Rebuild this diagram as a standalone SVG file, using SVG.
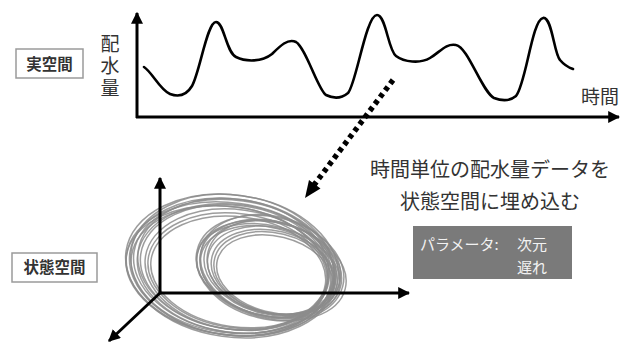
<svg xmlns="http://www.w3.org/2000/svg" width="631" height="345" viewBox="0 0 631 345">
<style>
.axis{stroke:#000;stroke-width:3;fill:none}
.curve{stroke:#000;stroke-width:2.6;fill:none;stroke-linecap:round}
.loop{fill:none;stroke:#8c8c8c;stroke-width:1.5;stroke-opacity:0.85}
.lbl{font-family:"Noto Sans CJK JP","Noto Sans",sans-serif;fill:#333}
.box{fill:#fff;stroke:#9a9a9a;stroke-width:1.5}
.wt{font-family:"Noto Sans CJK JP","Noto Sans",sans-serif;fill:#f2f2f2;font-size:15px}
</style>
<defs>
<marker id="ah" viewBox="0 0 10 10" refX="9" refY="5" markerWidth="4" markerHeight="4" orient="auto" markerUnits="strokeWidth">
<path d="M0,0 L10,5 L0,10 z" fill="#000"/>
</marker>
</defs>
<rect width="631" height="345" fill="#fff"/>

<g id="real-space-label">
<rect class="box" x="16" y="49" width="67" height="29"/>
<text class="lbl" x="49.5" y="69.5" font-size="15.5" text-anchor="middle" font-weight="bold" fill="#4a4a4a">実空間</text>
</g>

<g id="state-space-label">
<rect class="box" x="12" y="253" width="85" height="29"/>
<text class="lbl" x="54.5" y="273" font-size="15.5" text-anchor="middle" font-weight="bold" fill="#4a4a4a">状態空間</text>
</g>

<g id="time-series-chart">
<text class="lbl" x="110" y="34" font-size="19" writing-mode="vertical-rl" letter-spacing="3">配水量</text>
<text class="lbl" x="600" y="104" font-size="19" text-anchor="middle">時間</text>
<path class="curve" d="M144,67 C152,72 160,90 170,94 C178,97 186,96 192,86 C200,72 207,22 216,22 C224,22 226,52 236,57 C246,62 262,62 272,54 C280,46 288,38 296,42 C306,48 318,90 326,95 C334,99 342,98 348,93 C356,85 366,15 377,15 C386,15 388,50 396,56 C404,62 420,64 430,58 C440,52 446,43 456,45 C468,47 482,92 494,98 C502,101 510,101 516,96 C526,84 532,20 543,18 C552,16 554,54 560,60 C565,66 570,68 573,69"/>
</g>

<g id="state-space-attractor">
<g transform="translate(232,266) rotate(8)">
<ellipse class="loop" rx="107" ry="71"/>
<ellipse class="loop" rx="104" ry="68" cx="1" cy="1"/>
<ellipse class="loop" rx="101" ry="66" cx="2" cy="0"/>
<ellipse class="loop" rx="98" ry="64" cx="3" cy="2"/>
<ellipse class="loop" rx="105" ry="66" cx="-1" cy="3"/>
<ellipse class="loop" rx="95" ry="62" cx="3" cy="1"/>
<ellipse class="loop" rx="102" ry="70" cx="0" cy="-1"/>
<ellipse class="loop" rx="92" ry="60" cx="5" cy="3"/>
<ellipse class="loop" rx="99" ry="63" cx="-2" cy="4"/>
<ellipse class="loop" rx="90" ry="57" cx="6" cy="4"/>
<ellipse class="loop" rx="96" ry="65" cx="1" cy="-2"/>
<ellipse class="loop" rx="88" ry="55" cx="7" cy="5"/>
<ellipse class="loop" rx="103" ry="64" cx="-3" cy="5"/>
</g>
<g transform="translate(270,268) rotate(14)">
<ellipse class="loop" rx="75" ry="51"/>
<ellipse class="loop" rx="72" ry="48" cx="1" cy="1"/>
<ellipse class="loop" rx="69" ry="46" cx="2" cy="0"/>
<ellipse class="loop" rx="73" ry="45" cx="-1" cy="3"/>
<ellipse class="loop" rx="66" ry="43" cx="3" cy="2"/>
<ellipse class="loop" rx="71" ry="50" cx="0" cy="-2"/>
<ellipse class="loop" rx="63" ry="41" cx="4" cy="3"/>
<ellipse class="loop" rx="68" ry="44" cx="-2" cy="4"/>
<ellipse class="loop" rx="76" ry="48" cx="2" cy="2"/>
<ellipse class="loop" rx="61" ry="40" cx="5" cy="4"/>
<ellipse class="loop" rx="65" ry="46" cx="1" cy="-1"/>
<ellipse class="loop" rx="59" ry="38" cx="6" cy="5"/>
</g>
</g>

<g id="embed-text">
<text class="lbl" x="490" y="177" font-size="20" text-anchor="middle">時間単位の配水量データを</text>
<text class="lbl" x="490" y="209" font-size="20" text-anchor="middle">状態空間に埋め込む</text>
</g>

<g id="parameter-box">
<rect x="413" y="226" width="159" height="53" fill="#7a7a7a"/>
<text class="wt" x="420" y="250">パラメータ:</text>
<text class="wt" x="517" y="250">次元</text>
<text class="wt" x="517" y="273">遅れ</text>
</g>

<g id="connectors">
<line class="axis" x1="137" y1="118" x2="137" y2="13" marker-end="url(#ah)"/>
<line class="axis" x1="136" y1="117" x2="619" y2="117" marker-end="url(#ah)"/>
<line class="axis" x1="160" y1="294" x2="160" y2="178" marker-end="url(#ah)"/>
<line class="axis" x1="159" y1="293" x2="409" y2="293" marker-end="url(#ah)"/>
<line class="axis" x1="160" y1="293" x2="109" y2="341" marker-end="url(#ah)"/>
<line x1="393" y1="80" x2="314" y2="185" stroke="#000" stroke-width="5.5" stroke-dasharray="4.5 4"/>
<path d="M305,198 L309,180 L320.5,188.5 z" fill="#000"/>
</g>
</svg>
